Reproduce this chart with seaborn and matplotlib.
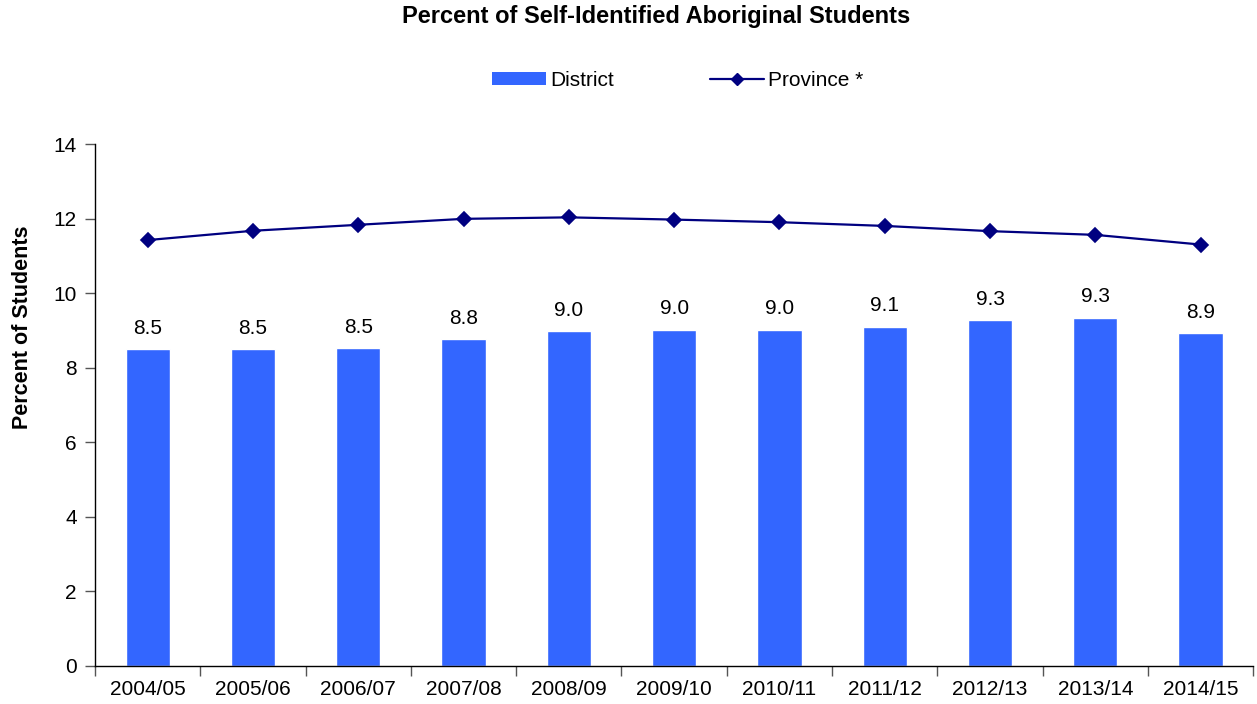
import numpy as np
import pandas as pd
import matplotlib
matplotlib.use("Agg")
import matplotlib.pyplot as plt
import seaborn as sns
from matplotlib.patches import Patch
from matplotlib.lines import Line2D

years = ["2004/05", "2005/06", "2006/07", "2007/08", "2008/09", "2009/10",
         "2010/11", "2011/12", "2012/13", "2013/14", "2014/15"]
district = [8.50, 8.51, 8.53, 8.77, 8.98, 9.03, 9.03, 9.11, 9.28, 9.35, 8.94]
province = [11.43, 11.68, 11.84, 12.00, 12.04, 11.98, 11.91, 11.81, 11.67, 11.57, 11.31]
yticks = [0, 2, 4, 6, 8, 10, 12, 14]

df = pd.DataFrame({"year": years, "district": district, "province": province})

sns.set_style("white")
plt.rcParams["font.family"] = ["Liberation Sans", "DejaVu Sans"]
plt.rcParams["text.color"] = "black"
plt.rcParams["axes.labelcolor"] = "black"
plt.rcParams["xtick.color"] = "black"
plt.rcParams["ytick.color"] = "black"

bar_color = "#3366FF"
line_color = "#000080"

fig = plt.figure(figsize=(12.57, 7.04), dpi=100)
ax = fig.add_axes([0.0756, 0.054, 0.9214, 0.741])

sns.barplot(data=df, x="year", y="district", color=bar_color, width=0.42,
            saturation=1, ax=ax, zorder=2)
sns.pointplot(data=df, x="year", y="province", color=line_color, markers="D",
              linestyles="-", markersize=7, linewidth=1.6, ax=ax, zorder=3)

for i, v in enumerate(district):
    ax.text(i, v + 0.3, f"{v:.1f}", ha="center", va="bottom", fontsize=15, color="black")

ax.set_xlim(-0.5, len(years) - 0.5)
ax.set_ylim(0, 14)
ax.set_yticks(yticks)
ax.set_yticklabels([str(t) for t in yticks], fontsize=15)
ax.set_xticks(range(len(years)))
ax.set_xticklabels(years, fontsize=15)
ax.set_xticks(np.arange(-0.5, len(years)), minor=True)
ax.tick_params(axis="x", which="major", bottom=True, length=0, pad=10, labelcolor="black")
ax.tick_params(axis="x", which="minor", bottom=True, length=7, width=1, color="#555555", direction="out")
ax.tick_params(axis="y", which="major", left=True, length=7, width=1, color="#555555",
               direction="out", pad=6, labelcolor="black")

ax.set_xlabel("")
ax.set_ylabel("Percent of Students", fontsize=15.5, fontweight="bold", color="black")
ax.yaxis.set_label_coords(-0.0535, 0.649)

for s in ["top", "right"]:
    ax.spines[s].set_visible(False)
for s in ["left", "bottom"]:
    ax.spines[s].set_color("black")
    ax.spines[s].set_linewidth(1)

fig.text(0.522, 0.976, "Percent of Self-Identified Aboriginal Students", ha="center",
         va="center", fontsize=17, fontweight="bold", color="black")

handles = [Patch(facecolor=bar_color, edgecolor="none", label="District"),
           Line2D([0], [0], color=line_color, marker="D", markersize=6, linewidth=1.6,
                  label="Province *")]
fig.legend(handles=handles, loc="center", bbox_to_anchor=(0.539, 0.886), ncol=2,
           frameon=False, fontsize=15, handlelength=2.6, handletextpad=0.2,
           columnspacing=4.6, handleheight=0.6, labelcolor="black")

fig.savefig("out.png", dpi=100)
